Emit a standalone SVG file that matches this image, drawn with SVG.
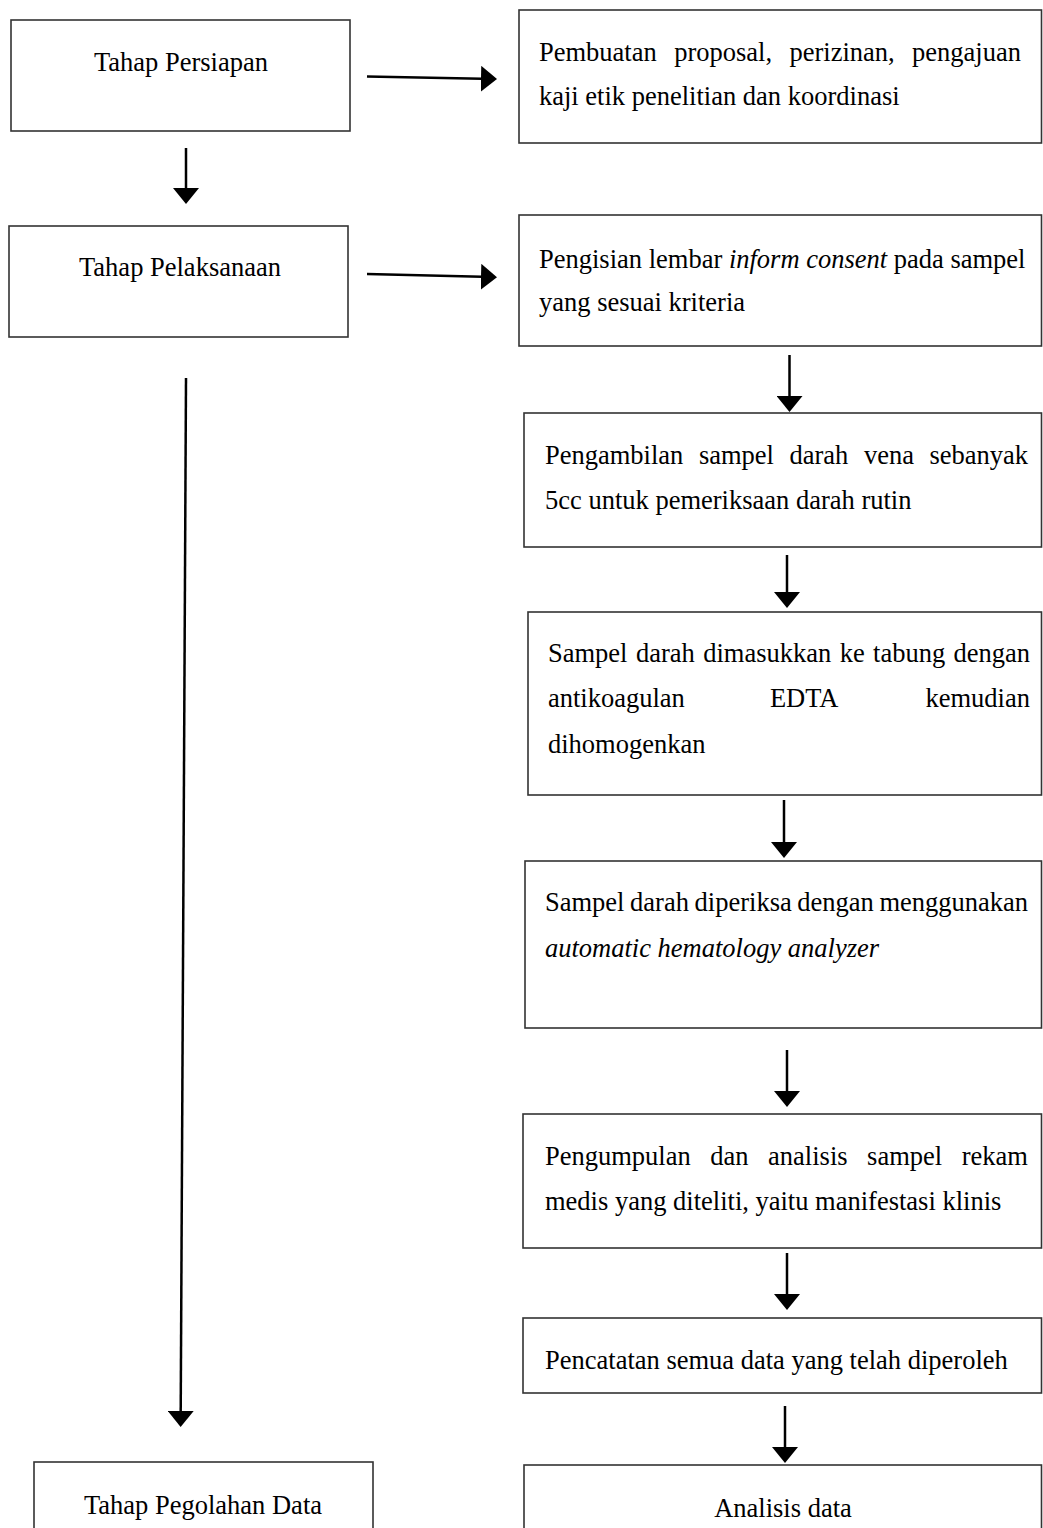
<svg xmlns="http://www.w3.org/2000/svg" width="1043" height="1528" viewBox="0 0 1043 1528">
<style>
.box{fill:#fff;stroke:#333;stroke-width:1.6}
.t{font-family:"Liberation Serif","Times New Roman",serif;font-size:26.5px;fill:#000}
.c{text-anchor:middle}
.i{font-style:italic}
.ar{stroke:#000;stroke-width:2.5;fill:none;marker-end:url(#ah)}
</style>
<defs>
<marker id="ah" viewBox="0 0 16 26" refX="1" refY="13" markerWidth="16" markerHeight="26" markerUnits="userSpaceOnUse" orient="auto">
<path d="M0,0 L16,13 L0,26 Z" fill="#000"/>
</marker>
</defs>
<rect width="1043" height="1528" fill="#fff"/>

<g id="connectors">
<line class="ar" x1="367" y1="76.5" x2="482" y2="78.8"/>
<line class="ar" x1="367" y1="274" x2="482" y2="276.8"/>
<line class="ar" x1="186" y1="148" x2="186" y2="189"/>
<line class="ar" x1="186" y1="378" x2="180.7" y2="1412"/>
<line class="ar" x1="789.5" y1="355" x2="789.5" y2="397"/>
<line class="ar" x1="787" y1="555" x2="787" y2="593"/>
<line class="ar" x1="784" y1="800" x2="784" y2="843"/>
<line class="ar" x1="787" y1="1050" x2="787" y2="1092"/>
<line class="ar" x1="787" y1="1253" x2="787" y2="1295"/>
<line class="ar" x1="785" y1="1406" x2="785" y2="1448"/>
</g>

<g id="tahap-persiapan">
<rect class="box" x="11" y="20" width="339" height="111"/>
<text class="t c" x="181" y="71">Tahap Persiapan</text>
</g>

<g id="tahap-pelaksanaan">
<rect class="box" x="9" y="226" width="339" height="111"/>
<text class="t c" x="180" y="276">Tahap Pelaksanaan</text>
</g>

<g id="tahap-pengolahan">
<rect class="box" x="34" y="1462" width="339" height="90"/>
<text class="t c" x="203" y="1514">Tahap Pegolahan Data</text>
</g>

<g id="pembuatan-proposal">
<rect class="box" x="519" y="10" width="522.5" height="133"/>
<text class="t" y="61"><tspan x="539">Pembuatan</tspan><tspan x="674.2">proposal,</tspan><tspan x="789.5">perizinan,</tspan><tspan x="912.1">pengajuan</tspan></text>
<text class="t" x="539" y="105">kaji etik penelitian dan koordinasi</text>
</g>

<g id="inform-consent">
<rect class="box" x="519" y="215" width="522.5" height="131"/>
<text class="t" x="539" y="268">Pengisian lembar <tspan class="i">inform consent</tspan> pada sampel</text>
<text class="t" x="539" y="311">yang sesuai kriteria</text>
</g>

<g id="pengambilan-sampel">
<rect class="box" x="524" y="413" width="517.5" height="134"/>
<text class="t" y="464"><tspan x="545">Pengambilan</tspan><tspan x="698.9">sampel</tspan><tspan x="789.5">darah</tspan><tspan x="863.9">vena</tspan><tspan x="929.4">sebanyak</tspan></text>
<text class="t" x="545" y="509">5cc untuk pemeriksaan darah rutin</text>
</g>

<g id="tabung-edta">
<rect class="box" x="528" y="612" width="513.5" height="183"/>
<text class="t" y="662"><tspan x="548">Sampel</tspan><tspan x="635.9">darah</tspan><tspan x="703.2">dimasukkan</tspan><tspan x="839.7">ke</tspan><tspan x="873.1">tabung</tspan><tspan x="953.6">dengan</tspan></text>
<text class="t" y="707"><tspan x="548">antikoagulan</tspan><tspan x="769.9">EDTA</tspan><tspan x="925.5">kemudian</tspan></text>
<text class="t" x="548" y="753">dihomogenkan</text>
</g>

<g id="hematology-analyzer">
<rect class="box" x="525" y="861" width="516.5" height="167"/>
<text class="t" y="911"><tspan x="545">Sampel</tspan><tspan x="630.1">darah</tspan><tspan x="694.6">diperiksa</tspan><tspan x="797.3">dengan</tspan><tspan x="879.4">menggunakan</tspan></text>
<text class="t i" x="545" y="957">automatic hematology analyzer</text>
</g>

<g id="rekam-medis">
<rect class="box" x="523" y="1114" width="518.5" height="134"/>
<text class="t" y="1165"><tspan x="545">Pengumpulan</tspan><tspan x="710.3">dan</tspan><tspan x="768.1">analisis</tspan><tspan x="867.1">sampel</tspan><tspan x="961.7">rekam</tspan></text>
<text class="t" x="545" y="1210">medis yang diteliti, yaitu manifestasi klinis</text>
</g>

<g id="pencatatan">
<rect class="box" x="523" y="1318" width="518.5" height="75"/>
<text class="t" x="545" y="1369">Pencatatan semua data yang telah diperoleh</text>
</g>

<g id="analisis-data">
<rect class="box" x="524" y="1465" width="517.5" height="90"/>
<text class="t c" x="783" y="1517">Analisis data</text>
</g>
</svg>
